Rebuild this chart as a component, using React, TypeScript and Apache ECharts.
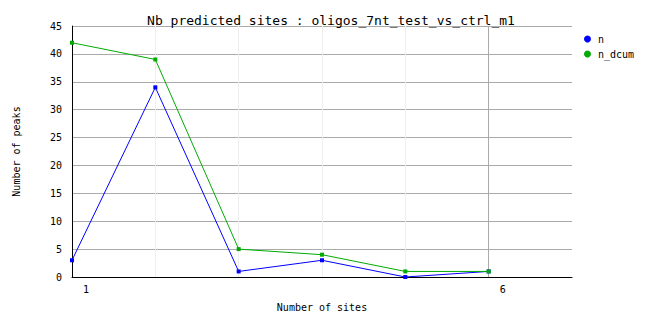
import React, { useEffect, useRef } from "react";
import * as echarts from "echarts";

const sites = [1, 2, 3, 4, 5, 6];
const nValues = [3, 34, 1, 3, 0, 1];
const nDcumValues = [42, 39, 5, 4, 1, 1];
const xLabels = ["1", "6"];
const titleText = "Nb predicted sites : oligos_7nt_test_vs_ctrl_m1";

const FONT = "DejaVu Sans Mono";

export default function App() {
  const ref = useRef<HTMLDivElement>(null);
  useEffect(() => {
    if (!ref.current) return;
    const chart = echarts.init(ref.current, undefined, { renderer: "svg" });
    chart.setOption({
      animation: false,
      backgroundColor: "#ffffff",
      title: {
        text: titleText,
        left: "center",
        top: 9,
        textStyle: { fontFamily: FONT, fontSize: 13, fontWeight: "normal", color: "#000" },
      },
      legend: {
        orient: "vertical",
        left: 579,
        top: 29,
        itemWidth: 7,
        itemHeight: 7,
        itemGap: 5,
        icon: "circle",
        textStyle: { fontFamily: FONT, fontSize: 10, color: "#000", padding: [0, 0, 0, 2] },
        data: ["n", "n_dcum"],
      },
      grid: { left: 72, right: 90, top: 26, bottom: 51, containLabel: false },
      xAxis: {
        type: "value",
        min: 1,
        max: 7,
        interval: 1,
        name: "Number of sites",
        nameLocation: "middle",
        nameGap: 25,
        nameTextStyle: { fontFamily: FONT, fontSize: 10, color: "#000" },
        axisLine: { show: true, lineStyle: { color: "#000", width: 1 } },
        axisTick: { show: false },
        axisLabel: {
          fontFamily: FONT,
          fontSize: 10,
          color: "#000",
          margin: 7,
          padding: [0, 0, 0, 28],
          showMaxLabel: false,
          formatter: (v: number) => (xLabels.includes(String(v)) ? String(v) : ""),
        },
        splitLine: {
          show: true,
          lineStyle: {
            color: ["#eeeeee", "#eeeeee", "#eeeeee", "#eeeeee", "#eeeeee", "#aaaaaa", "#ffffff"],
            width: 1,
          },
        },
      },
      yAxis: {
        type: "value",
        min: 0,
        max: 45,
        interval: 5,
        name: "Number of peaks",
        nameLocation: "middle",
        nameGap: 51,
        nameRotate: 90,
        nameTextStyle: { fontFamily: FONT, fontSize: 10, color: "#000" },
        axisLine: { show: true, lineStyle: { color: "#000", width: 1 } },
        axisTick: { show: false },
        axisLabel: { fontFamily: FONT, fontSize: 10, color: "#000", margin: 10 },
        splitLine: { show: true, lineStyle: { color: "#aaaaaa", width: 1 } },
      },
      series: [
        {
          name: "n",
          type: "line",
          data: sites.map((s, i) => [s, nValues[i]]),
          color: "#0000ff",
          lineStyle: { width: 1, color: "#0000ff" },
          symbol: "rect",
          symbolSize: 4,
          itemStyle: { color: "#0000ff" },
          z: 2,
        },
        {
          name: "n_dcum",
          type: "line",
          data: sites.map((s, i) => [s, nDcumValues[i]]),
          color: "#00aa00",
          lineStyle: { width: 1, color: "#00aa00" },
          symbol: "rect",
          symbolSize: 4,
          itemStyle: { color: "#00aa00" },
          z: 3,
        },
      ],
    });
    return () => chart.dispose();
  }, []);
  return (
    <div style={{ position: "absolute", left: 0, top: 0 }}>
      <div ref={ref} style={{ width: 662, height: 328 }} />
    </div>
  );
}
